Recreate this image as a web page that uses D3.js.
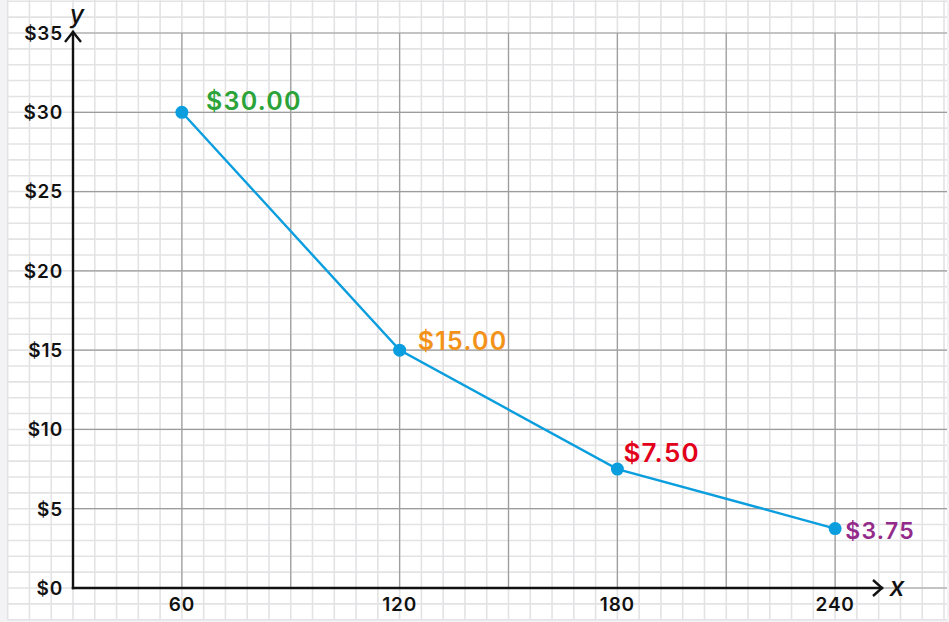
<!DOCTYPE html>
<html>
<head>
<meta charset="utf-8">
<script src="https://cdn.jsdelivr.net/npm/d3@7"></script>
<style>
  html, body { margin: 0; padding: 0; background: #f3f3f5; }
  svg { display: block; }
  text { font-family: Inter, "Open Sans", sans-serif; }
</style>
</head>
<body>
<svg id="chart" width="949" height="622"></svg>
<script>
// Price per item at each quantity
const quantities = [60, 120, 180, 240];
const prices = [30, 15, 7.5, 3.75];
const priceLabels = ["$30.00", "$15.00", "$7.50", "$3.75"];
const labelColors = ["#2ba338", "#f39219", "#e2001a", "#932b8a"];

const xTicks = [60, 120, 180, 240];
const yTicks = [0, 5, 10, 15, 20, 25, 30, 35];

const svg = d3.select("#chart");

const x = d3.scaleLinear().domain([30, 270]).range([73, 944]);
const y = d3.scaleLinear().domain([0, 35]).range([588, 33]);

// Graph-paper area
const paper = { x0: 7, y0: 0, x1: 947, y1: 619 };
svg.append("rect")
  .attr("x", paper.x0).attr("y", paper.y0)
  .attr("width", paper.x1 - paper.x0).attr("height", paper.y1 - paper.y0)
  .attr("fill", "#ffffff");

// Minor grid: every 6 units across, every 1 unit up
const minorX = d3.range(12, 276, 6);
const minorY = d3.range(-2, 38, 1);
const grid = svg.append("g");
grid.selectAll("line.mx").data(minorX).join("line")
  .attr("x1", d => x(d)).attr("x2", d => x(d))
  .attr("y1", paper.y0).attr("y2", paper.y1)
  .attr("stroke", "#e3e3e5").attr("stroke-width", 1.6);
grid.selectAll("line.my").data(minorY).join("line")
  .attr("y1", d => y(d)).attr("y2", d => y(d))
  .attr("x1", paper.x0).attr("x2", paper.x1)
  .attr("stroke", "#e3e3e5").attr("stroke-width", 1.6);

// Major grid inside the plot
const majorX = d3.range(60, 241, 30);
const majorY = d3.range(5, 36, 5).concat([0]);
grid.selectAll("line.Mx").data(majorX).join("line")
  .attr("x1", d => x(d)).attr("x2", d => x(d))
  .attr("y1", y(35)).attr("y2", y(0))
  .attr("stroke", "#9c9c9c").attr("stroke-width", 1.2);
grid.selectAll("line.My").data(majorY).join("line")
  .attr("y1", d => y(d)).attr("y2", d => y(d))
  .attr("x1", x(30)).attr("x2", paper.x1)
  .attr("stroke", "#9c9c9c").attr("stroke-width", 1.2);

// Axes with open arrowheads
const axes = svg.append("g").attr("stroke", "#111").attr("stroke-width", 2.4)
  .attr("fill", "none").attr("stroke-linecap", "square");
const ox = x(30), oy = y(0);
const xEnd = 882, yEnd = y(35) - 1;
axes.append("line").attr("x1", ox).attr("y1", oy).attr("x2", xEnd).attr("y2", oy);
axes.append("line").attr("x1", ox).attr("y1", oy).attr("x2", ox).attr("y2", yEnd);
axes.append("path").attr("stroke-linecap", "butt").attr("stroke-linejoin", "miter")
  .attr("d", `M${xEnd - 9},${oy - 8} L${xEnd},${oy} L${xEnd - 9},${oy + 8}`);
axes.append("path").attr("stroke-linecap", "butt").attr("stroke-linejoin", "miter")
  .attr("d", `M${ox - 8},${yEnd + 10} L${ox},${yEnd} L${ox + 8},${yEnd + 10}`);

// Axis titles
svg.append("text").attr("x", 897).attr("y", 596)
  .attr("text-anchor", "middle").attr("font-size", 27).attr("font-style", "italic")
  .attr("font-weight", 500).attr("fill", "#111").text("x");
svg.append("text").attr("x", 77).attr("y", 23)
  .attr("text-anchor", "middle").attr("font-size", 25).attr("font-style", "italic")
  .attr("font-weight", 500).attr("fill", "#111").text("y");

// Tick labels
svg.append("g").selectAll("text").data(yTicks).join("text")
  .attr("x", 63).attr("y", d => y(d)).attr("dy", "0.36em")
  .attr("text-anchor", "end").attr("font-size", 19).attr("font-weight", 600)
  .attr("letter-spacing", 0.8)
  .attr("fill", "#111").text(d => "$" + d);
svg.append("g").selectAll("text").data(xTicks).join("text")
  .attr("x", d => x(d)).attr("y", 604).attr("dy", "0.36em")
  .attr("text-anchor", "middle").attr("font-size", 19).attr("font-weight", 600)
  .attr("letter-spacing", 0.8)
  .attr("fill", "#111").text(d => d);

// Price curve
const pts = quantities.map((q, i) => ({ q, p: prices[i], label: priceLabels[i], color: labelColors[i] }));
svg.append("path").datum(pts)
  .attr("fill", "none").attr("stroke", "#0b9ede").attr("stroke-width", 2.4)
  .attr("d", d3.line().x(d => x(d.q)).y(d => y(d.p)));
svg.append("g").selectAll("circle").data(pts).join("circle")
  .attr("cx", d => x(d.q)).attr("cy", d => y(d.p)).attr("r", 6.5)
  .attr("fill", "#0b9ede");

// Value labels beside each point: [dx, dy, font size]
const labelOffsets = [[24, -2, 25], [18, 0, 25], [6, -7, 26], [10, 10, 23]];
svg.append("g").selectAll("text").data(pts).join("text")
  .attr("x", (d, i) => x(d.q) + labelOffsets[i][0])
  .attr("y", (d, i) => y(d.p) + labelOffsets[i][1])
  .attr("font-size", (d, i) => labelOffsets[i][2])
  .attr("font-weight", 600)
  .attr("letter-spacing", 1.3)
  .attr("fill", d => d.color)
  .text(d => d.label);
</script>
</body>
</html>
